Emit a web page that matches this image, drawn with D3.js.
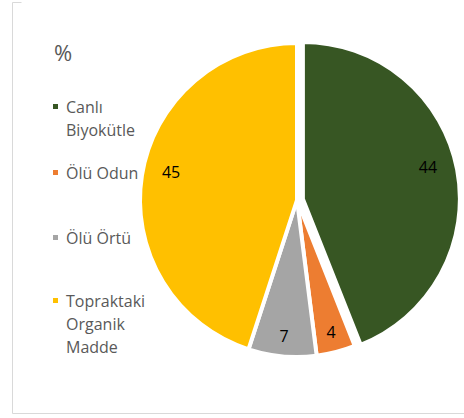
<!DOCTYPE html>
<html>
<head>
<meta charset="utf-8">
<script src="https://cdn.jsdelivr.net/npm/d3@7"></script>
<style>
  html, body { margin: 0; padding: 0; background: #fff; }
  svg { display: block; font-family: "Open Sans", sans-serif; }
</style>
</head>
<body>
<div id="chart"></div>
<script>
// Pie of carbon pool shares (%), slices clockwise from 12 o'clock.
const categories = ["Canlı Biyokütle", "Ölü Odun", "Ölü Örtü", "Topraktaki Organik Madde"];
const values = [44, 4, 7, 45];
const colors = ["#375623", "#ED7D31", "#A5A5A5", "#FFC000"];
// legend labels wrap the way the original does
const legend_lines = [["Canlı", "Biyokütle"], ["Ölü Odun"], ["Ölü Örtü"], ["Topraktaki", "Organik", "Madde"]];
const exploded = [true, false, false, false];
const title = "%";

const width = 464;
const height = 418;
const center = [297, 200];
const radius = 157;
const explode_offset = 6;

const svg = d3.select("#chart").append("svg")
  .attr("width", width)
  .attr("height", height);

// chart area frame (only left, bottom and a stub of the top are visible)
svg.append("path")
  .attr("d", `M21.5,2.5 H12.5 V413.5 H${width}`)
  .attr("fill", "none")
  .attr("stroke", "#d9d9d9")
  .attr("stroke-width", 1);

const pie = d3.pie().sort(null).value((d) => d);
const arcs = pie(values);
const arc = d3.arc().innerRadius(0).outerRadius(radius);

const g = svg.append("g").attr("transform", `translate(${center[0]},${center[1]})`);

function shift(d, index) {
  if (!exploded[index]) return [0, 0];
  const mid = (d.startAngle + d.endAngle) / 2;
  return [explode_offset * Math.sin(mid), -explode_offset * Math.cos(mid)];
}

// "inside end" labels: narrow slices sit near the rim on the bisector,
// wide slices are pulled in a little and nudged toward the top
function label_position(d, index) {
  const wide = d.endAngle - d.startAngle > Math.PI / 2;
  let angle = (d.startAngle + d.endAngle) / 2;
  if (wide) angle += Math.sin(angle) > 0 ? -0.06 : 0.06;
  const r = wide ? 129 : 137;
  const [sx, sy] = shift(d, index);
  return [r * Math.sin(angle) + sx, -r * Math.cos(angle) + sy];
}

g.selectAll("path.slice")
  .data(arcs)
  .join("path")
  .attr("class", "slice")
  .attr("d", arc)
  .attr("transform", (d, i) => `translate(${shift(d, i)})`)
  .attr("fill", (d, i) => colors[i])
  .attr("stroke", "#fff")
  .attr("stroke-width", 4)
  .attr("stroke-linejoin", "round");

g.selectAll("text.value")
  .data(arcs)
  .join("text")
  .attr("class", "value")
  .attr("transform", (d, i) => `translate(${label_position(d, i)})`)
  .attr("text-anchor", "middle")
  .attr("dy", "0.35em")
  .attr("font-size", 16)
  .attr("fill", "#000")
  .text((d) => d.data);

// legend
svg.append("text")
  .attr("x", 54)
  .attr("y", 61)
  .attr("font-size", 22)
  .attr("fill", "#595959")
  .text(title);

const legend_top = [113, 179, 244, 307];
const line_height = 23;
const legend = svg.append("g");
legend_lines.forEach((lines, i) => {
  legend.append("rect")
    .attr("x", 53)
    .attr("y", legend_top[i] - 9)
    .attr("width", 5)
    .attr("height", 5)
    .attr("fill", colors[i]);
  const text = legend.append("text")
    .attr("x", 66)
    .attr("y", legend_top[i])
    .attr("font-size", 16)
    .attr("fill", "#595959");
  lines.forEach((line, j) => {
    text.append("tspan")
      .attr("x", 66)
      .attr("y", legend_top[i] + j * line_height)
      .text(line);
  });
});
</script>
</body>
</html>
